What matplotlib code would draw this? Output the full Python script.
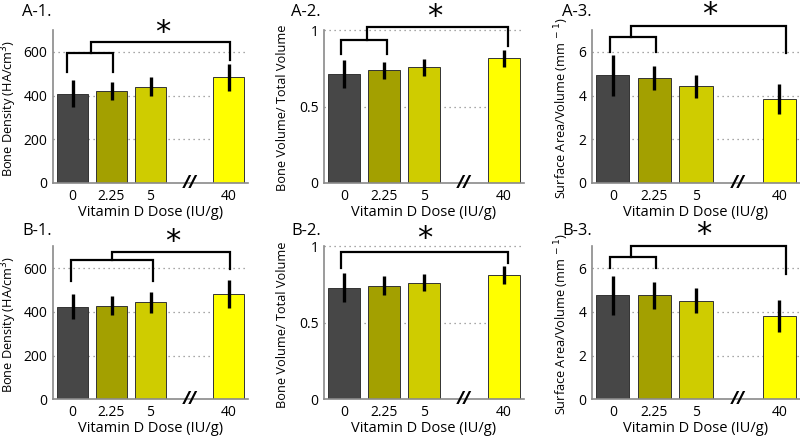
import matplotlib
matplotlib.use("Agg")
import matplotlib.pyplot as plt
import numpy as np

plt.rcParams["font.family"] = ["Open Sans", "DejaVu Sans"]

# ── Data ──────────────────────────────────────────────────────────────────────
DOSES = ["0", "2.25", "5", "40"]
XPOS = [0, 1, 2, 4]          # gap at 3 for the axis break

a1_mean = [408, 423, 441, 483]
a1_err  = [62, 41, 45, 61]
a2_mean = [0.712, 0.738, 0.755, 0.814]
a2_err  = [0.094, 0.056, 0.055, 0.058]
a3_mean = [4.92, 4.81, 4.43, 3.84]
a3_err  = [0.92, 0.54, 0.52, 0.67]

b1_mean = [424, 429, 443, 482]
b1_err  = [57, 42, 47, 63]
b2_mean = [0.730, 0.741, 0.763, 0.811]
b2_err  = [0.093, 0.062, 0.054, 0.060]
b3_mean = [4.75, 4.75, 4.52, 3.82]
b3_err  = [0.88, 0.60, 0.55, 0.72]

COLORS = ["#474747", "#a3a000", "#cfcc00", "#ffff00"]
GRID_C = "#8a8a8a"
SPINE_C = "#8a8a8a"

# panel specs: (label, means, errs, ylabel, ylim, yticks, ticklabels, brackets, star)
# bracket: (x_left, x_right, y_bar, y_left_leg, y_right_leg)
panels = [
    ("A-1.", a1_mean, a1_err, "Bone Density (HA/cm$^3$)", 700, [0, 200, 400, 600], ["0", "200", "400", "600"],
     [(-0.15, 1.05, 594, 509, 509), (0.48, 4.05, 644, 594, 562)], (2.32, 688)),
    ("A-2.", a2_mean, a2_err, "Bone Volume/ Total Volume", 1, [0, 0.5, 1], ["0", "0.5", "1"],
     [(-0.07, 1.08, 0.933, 0.84, 0.84), (0.57, 4.1, 1.02, 0.933, 0.896)], (2.26, 1.09)),
    ("A-3.", a3_mean, a3_err, "Surface Area/Volume (mm$^{\\ -1}$)", 7, [0, 2, 4, 6], ["0", "2", "4", "6"],
     [(-0.07, 1.05, 6.67, 5.98, 5.98), (0.43, 4.16, 7.2, 6.67, 5.93)], (2.32, 7.73)),
    ("B-1.", b1_mean, b1_err, "Bone Density (HA/cm$^3$)", 700, [0, 200, 400, 600], ["0", "200", "400", "600"],
     [(-0.05, 2.07, 636, 539, 539), (1.0, 4.04, 672, 636, 595)], (2.56, 722)),
    ("B-2.", b2_mean, b2_err, "Bone Volume/ Total Volume", 1, [0, 0.5, 1], ["0", "0.5", "1"],
     [(-0.07, 4.1, 0.96, 0.855, 0.89)], (2.03, 1.05)),
    ("B-3.", b3_mean, b3_err, "Surface Area/Volume (mm$^{\\ -1}$)", 7, [0, 2, 4, 6], ["0", "2", "4", "6"],
     [(-0.07, 1.05, 6.49, 6.03, 6.03), (0.43, 4.16, 7.02, 6.49, 5.73)], (2.19, 7.55)),
]

W, H = 800, 437
col_left = [53, 324, 592]
col_width = [195, 200, 208]
ylab_x = [-0.226, -0.205, -0.147]
row_bottom = [183, 399.3]
row_height = 153
title_pos = [(22, 12), (291, 12), (562, 12), (22, 231), (291, 231), (562, 231)]

fig = plt.figure(figsize=(8, 4.37), dpi=100)

for i, (lab, means, errs, ylab, ytop, yt, ytl, brackets, star) in enumerate(panels):
    r, c = divmod(i, 3)
    ax = fig.add_axes([col_left[c] / W, 1 - row_bottom[r] / H,
                       col_width[c] / W, row_height / H])
    ax.bar(XPOS, means, width=0.8, color=COLORS, edgecolor="#333333", linewidth=0.7, zorder=2)
    ax.errorbar(XPOS, means, yerr=errs, fmt="none", ecolor="black", elinewidth=2.4,
                capsize=0, zorder=3)
    for y in yt[1:]:
        ax.axhline(y, color=GRID_C, linestyle=(0, (1, 3)), linewidth=0.9, zorder=1,
                   clip_on=False)
    ax.set_xlim(-0.5, 4.5)
    ax.set_ylim(0, ytop)
    ax.set_xticks(XPOS)
    ax.set_xticklabels(DOSES)
    ax.set_yticks(yt)
    ax.set_yticklabels(ytl)
    ax.tick_params(length=0, labelsize=10, pad=4)
    for s in ["top", "right"]:
        ax.spines[s].set_visible(False)
    for s in ["left", "bottom"]:
        ax.spines[s].set_color(SPINE_C)
        ax.spines[s].set_linewidth(1.2)
    ax.set_xlabel("Vitamin D Dose (IU/g)", fontsize=10.5)
    ax.xaxis.set_label_coords(0.5, -29 / row_height)
    ax.xaxis.label.set_va("center")
    ax.set_ylabel(ylab, fontsize=9.2)
    ax.yaxis.set_label_coords(ylab_x[c], 0.49)
    ax.yaxis.label.set_va("center")
    # axis break mark
    ax.text(3, 0, "//", ha="center", va="center", fontsize=12, fontweight="bold",
            style="italic", zorder=5)
    # significance brackets
    for xl, xr, yb, yl, yr in brackets:
        ax.plot([xl, xl, xr, xr], [yl, yb, yb, yr], color="black", linewidth=1.6,
                clip_on=False, zorder=4, solid_joinstyle="miter")
    ax.text(star[0], star[1], "*", ha="center", va="center", fontsize=22,
            family="DejaVu Sans", clip_on=False)
    tx, ty = title_pos[i]
    fig.text(tx / W, 1 - ty / H, lab, fontsize=12, ha="left", va="center")

fig.savefig("out.png", dpi=100)
